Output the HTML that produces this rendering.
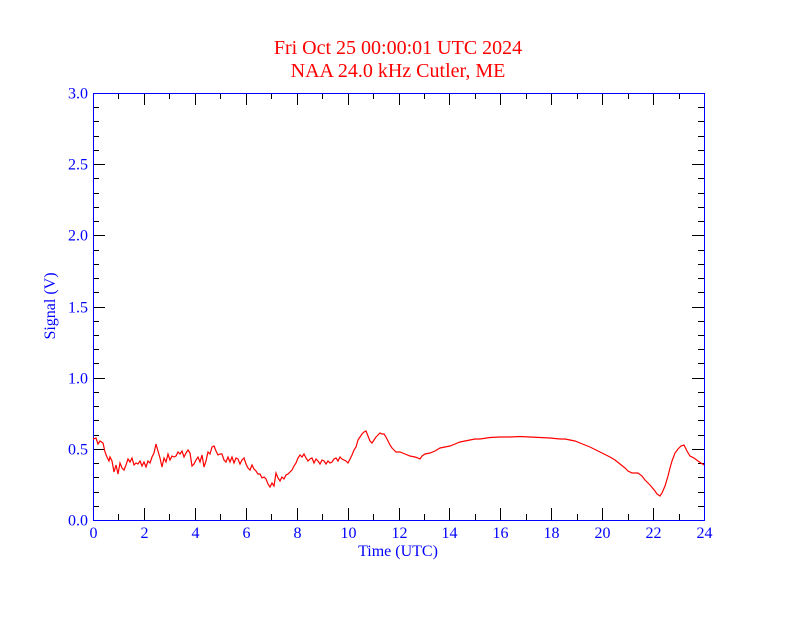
<!DOCTYPE html>
<html><head><style>body{margin:0;background:#fff}</style></head><body>
<svg width="792" height="612" xmlns="http://www.w3.org/2000/svg" font-family="Liberation Serif, serif">
<rect width="792" height="612" fill="#fff"/>
<text x="398" y="54" fill="#f00" font-size="20" text-anchor="middle">Fri Oct 25 00:00:01 UTC 2024</text>
<text x="398" y="77" fill="#f00" font-size="20" text-anchor="middle">NAA 24.0 kHz Cutler, ME</text>
<g id="ticks" stroke="#000" stroke-width="1"></g>
<rect x="93.5" y="93.5" width="611" height="427" fill="none" stroke="#00f" stroke-width="1"/>
<g id="lab" fill="#00f" font-size="16"></g>
<text x="398" y="556" fill="#00f" font-size="16" text-anchor="middle">Time (UTC)</text>
<text transform="translate(55,306) rotate(-90)" fill="#00f" font-size="16" text-anchor="middle">Signal (V)</text>
<polyline fill="none" stroke="#f00" stroke-width="1.2" points="93,439 96,438 98,444 100,441 103,443 105,452 107,457 109,461 110,457 112,461 114,472 116,465 118,474 120,463 122,468 124,470 126,465 128,459 130,462 132,458 134,465 136,463 138,464 140,461 142,466 144,462 146,467 148,461 150,463 152,457 154,453 156,444 158,451 160,458 162,467 164,458 166,462 168,454 170,460 172,456 174,457 176,456 178,452 180,454 182,451 184,457 186,453 188,450 190,453 192,466 194,464 196,460 198,457 200,462 202,455 204,467 206,461 208,452 210,454 212,447 214,446 216,451 218,455 220,454 222,454 224,460 226,462 228,457 230,462 232,457 234,463 236,458 238,459 240,464 242,460 244,458 246,464 248,468 250,470 252,465 254,469 256,471 258,474 260,474 262,478 264,477 266,479 268,484 270,487 272,483 274,486 276,473 278,478 280,481 282,477 284,479 286,475 288,474 290,472 292,470 294,466 296,463 298,458 300,455 302,457 304,454 306,458 308,461 310,459 312,458 314,463 316,459 318,461 320,464 322,460 324,461 326,464 328,461 330,463 332,462 334,459 336,458 338,461 340,457 342,459 344,460 346,461 348,463 350,459 352,455 354,450 356,447 358,440 360,437 362,434 364,432 366,431 368,436 370,441 372,443 374,440 376,437 378,435 380,433 382,434 384,434 386,437 388,441 390,445 392,448 394,450 396,452 400,452 405,454 410,456 415,457 418,458 420,459 422,456 425,454 430,453 435,451 440,448 445,447 450,446 455,444 460,442 465,441 470,440 475,439 480,439 490,437.5 500,437 510,437 520,436.5 530,437 540,437.5 550,438 560,439 565,439 570,440 575,441 580,443 590,447 600,452 610,457 615,460 620,464 625,468 628,471 632,473 638,473 642,476 645,480 650,485 655,491 657,494 660,496 662,493 665,486 668,476 670,468 672,461 675,453 678,449 681,446 684,445 687,451 690,456 694,458 698,461 701,463 704,465"/>
</svg>
<script>
const ns="http://www.w3.org/2000/svg";const t=document.getElementById('ticks'),l=document.getElementById('lab');
function ln(x1,y1,x2,y2){const e=document.createElementNS(ns,'line');e.setAttribute('x1',x1);e.setAttribute('y1',y1);e.setAttribute('x2',x2);e.setAttribute('y2',y2);t.appendChild(e);}
function tx(x,y,s,a){const e=document.createElementNS(ns,'text');e.setAttribute('x',x);e.setAttribute('y',y);e.setAttribute('text-anchor',a);e.textContent=s;l.appendChild(e);}
for(let h=0;h<=24;h++){const x=Math.round(93+h*611/24)+0.5;const L=h%2?6:12;ln(x,520,x,520-L);ln(x,93,x,93+L);if(h%2==0)tx(x,538,String(h),'middle');}
for(let i=0;i<=30;i++){const y=Math.round(520-i*427/30)+0.5;const L=i%5?6:12;ln(93,y,93+L,y);ln(704,y,704-L,y);if(i%5==0)tx(88,y+5,(i/10).toFixed(1),'end');}
</script>
</body></html>
